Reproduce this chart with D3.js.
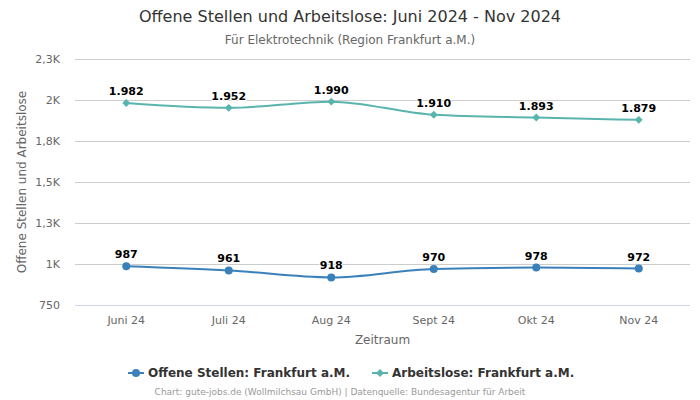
<!DOCTYPE html>
<html><head><meta charset="utf-8">
<script src="https://cdn.jsdelivr.net/npm/d3@7"></script>
<style>body{margin:0;background:#fff;font-family:"DejaVu Sans",sans-serif}</style>
</head><body>
<svg id="c" width="700" height="400"></svg>
<script>
const categories = ["Juni 24","Juli 24","Aug 24","Sept 24","Okt 24","Nov 24"];
const offeneStellen = [987,961,918,970,978,972];
const arbeitslose = [1982,1952,1990,1910,1893,1879];
const yTicks = [750,1000,1250,1500,1750,2000,2250];
const yTickLabels = ["750","1K","1,3K","1,5K","1,8K","2K","2,3K"];
const seriesNames = ["Offene Stellen: Frankfurt a.M.","Arbeitslose: Frankfurt a.M."];

const svg = d3.select("#c");
const L=75,R=690,T=59,B=305;
const x = d3.scaleBand().domain(categories).range([L,R]);
const y = d3.scaleLinear().domain([750,2250]).range([B,T]);
const cx = d=>x(d)+x.bandwidth()/2;

svg.append("text").attr("x",350).attr("y",22).attr("text-anchor","middle")
 .attr("font-size",16).attr("fill","#333").text("Offene Stellen und Arbeitslose: Juni 2024 - Nov 2024");
svg.append("text").attr("x",350).attr("y",44).attr("text-anchor","middle")
 .attr("font-size",12).attr("fill","#666").text("Für Elektrotechnik (Region Frankfurt a.M.)");

// grid
const yAxis = d3.axisLeft(y).tickValues(yTicks).tickSize(-(R-L)).tickFormat((d,i)=>yTickLabels[i]);
const gy = svg.append("g").attr("transform",`translate(${L},0)`).call(yAxis);
gy.select(".domain").remove();
gy.selectAll(".tick line").attr("stroke","#ccc");
gy.selectAll(".tick").filter(d=>d===750).select("line").attr("stroke","#ccd6eb");
gy.selectAll(".tick text").attr("x",-15).attr("font-size",11).attr("fill","#666").attr("font-family","DejaVu Sans");

const xAxis = d3.axisBottom(x).tickSize(0);
const gx = svg.append("g").attr("transform",`translate(0,${B})`).call(xAxis);
gx.select(".domain").remove();
gx.selectAll(".tick text").attr("dy",0).attr("y",19).attr("font-size",11).attr("fill","#666").attr("font-family","DejaVu Sans");

svg.append("text").attr("x",(L+R)/2).attr("y",344).attr("text-anchor","middle")
 .attr("font-size",12).attr("fill","#666").text("Zeitraum");
svg.append("text").attr("transform",`translate(26,${(T+B)/2}) rotate(-90)`).attr("text-anchor","middle")
 .attr("font-size",12).attr("fill","#666").text("Offene Stellen und Arbeitslose");

const colors = ["#3a80ba","#5ab4ae"];
const line = d3.line().x((d,i)=>cx(categories[i])).y(d=>y(d)).curve(d3.curveMonotoneX);
const data = [offeneStellen, arbeitslose];
const fmt = v => v>=1000 ? d3.format(",")(v).replace(",",".") : String(v);

data.forEach((s,k)=>{
  svg.append("path").datum(s).attr("d",line).attr("fill","none").attr("stroke",colors[k]).attr("stroke-width",2);
  const g = svg.append("g");
  s.forEach((v,i)=>{
    const px=cx(categories[i]), py=y(v);
    if(k===0) g.append("circle").attr("cx",px).attr("cy",py).attr("r",4).attr("fill",colors[k]);
    else g.append("path").attr("d",d3.symbol(d3.symbolDiamond2,40)()).attr("transform",`translate(${px},${py})`).attr("fill",colors[k]);
    g.append("text").attr("x",px).attr("y",py-8).attr("text-anchor","middle")
      .attr("font-size",11).attr("font-weight","bold").attr("fill","#000")
      .attr("stroke","#fff").attr("stroke-width",2).attr("paint-order","stroke").text(fmt(v));
  });
});

// legend
const leg = svg.append("g");
const items = [{x:128,k:0},{x:372,k:1}];
items.forEach(it=>{
  leg.append("line").attr("x1",it.x).attr("x2",it.x+16).attr("y1",373).attr("y2",373).attr("stroke",colors[it.k]).attr("stroke-width",2);
  if(it.k===0) leg.append("circle").attr("cx",it.x+8).attr("cy",373).attr("r",4).attr("fill",colors[0]);
  else leg.append("path").attr("d",d3.symbol(d3.symbolDiamond2,40)()).attr("transform",`translate(${it.x+8},373)`).attr("fill",colors[1]);
  leg.append("text").attr("x",it.x+20).attr("y",377).attr("font-size",12).attr("font-weight","bold").attr("fill","#333").text(seriesNames[it.k]);
});
svg.append("text").attr("x",340).attr("y",395).attr("text-anchor","middle").attr("font-size",9).attr("fill","#999")
 .text("Chart: gute-jobs.de (Wollmilchsau GmbH) | Datenquelle: Bundesagentur für Arbeit");
</script>
</body></html>
